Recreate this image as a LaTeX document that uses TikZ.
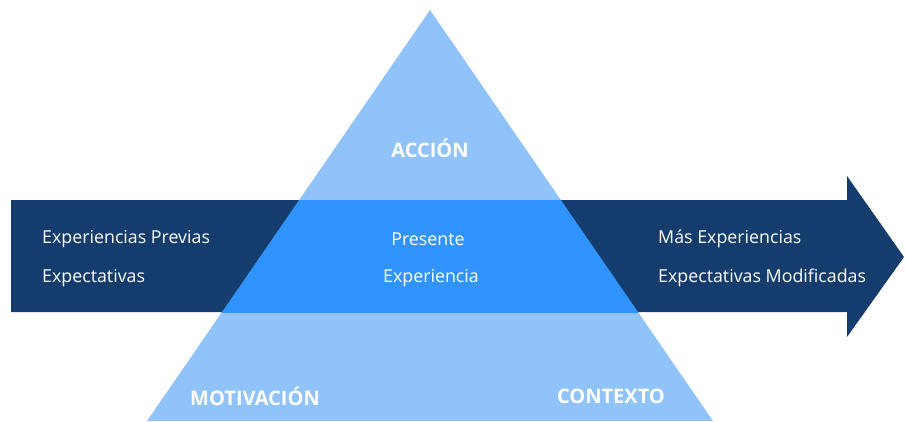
\documentclass[tikz,border=0pt]{standalone}
\usepackage{fontspec}
\setmainfont{Open Sans}
\definecolor{lightblue}{RGB}{144,195,250}
\definecolor{navy}{RGB}{20,61,110}
\definecolor{brightblue}{RGB}{48,148,255}
\begin{document}
\begin{tikzpicture}[x=1pt,y=-1pt,
  plain/.style={text=white,font=\fontsize{17.8}{20}\selectfont,inner sep=0pt},
  heading/.style={text=white,font=\fontsize{20}{24}\selectfont\bfseries,inner sep=0pt}]
\useasboundingbox (0,0) rectangle (905,421);
\clip (0,0) rectangle (905,421);
% pyramid
\fill[lightblue] (430,10) -- (147,421) -- (713,421) -- cycle;
% timeline arrow
\fill[navy] (11,200) -- (847,200) -- (847,176) -- (904,257) -- (847,337) -- (847,312) -- (11,312) -- cycle;
% overlap of pyramid and arrow band
\begin{scope}
  \clip (11,200) rectangle (847,312);
  \fill[brightblue] (430,10) -- (147,421) -- (713,421) -- cycle;
\end{scope}
% labels
\node[heading] (accion) at (430,148) {ACCIÓN};
\node[heading] (motiv) at (255,396) {MOTIVACIÓN};
\node[heading] (contexto) at (611,396) {CONTEXTO};
\node[plain] (presente) at (428,239) {Presente};
\node[plain] (experiencia) at (431,278) {Experiencia};
\node[plain,anchor=west] (previas) at (42,239) {Experiencias Previas};
\node[plain,anchor=west] (expect) at (42,278) {Expectativas};
\node[plain,anchor=west] (mas) at (658,239) {Más Experiencias};
\node[plain,anchor=west] (modif) at (658,278) {Expectativas Modificadas};
\end{tikzpicture}
\end{document}
